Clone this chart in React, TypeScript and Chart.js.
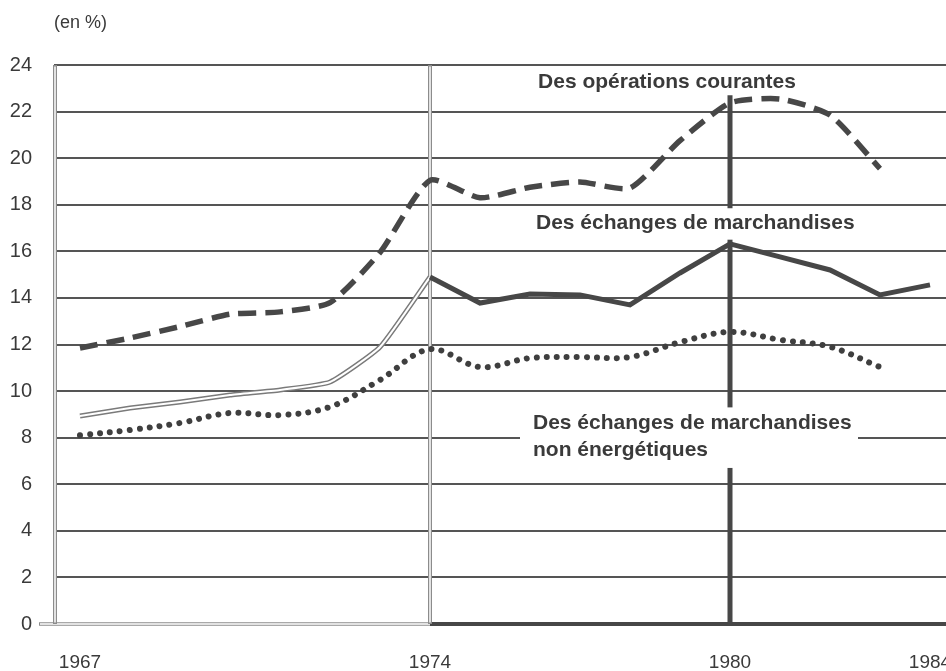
import React, { useEffect, useRef } from "react";
import { Chart, registerables } from "chart.js";

Chart.register(...registerables);

// ---- Data ----
const courantesYears = [1967, 1968, 1969, 1970, 1971, 1972, 1973, 1974, 1975, 1976, 1977, 1978, 1979, 1980, 1981, 1982, 1983];
const courantes = [11.85, 12.28, 12.77, 13.3, 13.4, 13.8, 15.95, 19.05, 18.3, 18.75, 18.98, 18.72, 20.75, 22.37, 22.54, 21.85, 19.55];

const marchandisesYears = [1967, 1968, 1969, 1970, 1971, 1972, 1973, 1974, 1975, 1976, 1977, 1978, 1979, 1980, 1981, 1982, 1983, 1984];
const marchandises = [8.93, 9.27, 9.53, 9.83, 10.05, 10.39, 11.89, 14.9, 13.78, 14.17, 14.13, 13.7, 15.07, 16.32, 15.76, 15.2, 14.13, 14.56];

const nonEnergYears = [1967, 1968, 1969, 1970, 1971, 1972, 1973, 1974, 1975, 1976, 1977, 1978, 1979, 1980, 1981, 1982, 1983];
const nonEnerg = [8.1, 8.33, 8.63, 9.06, 8.97, 9.32, 10.48, 11.8, 11.03, 11.42, 11.46, 11.46, 12.1, 12.54, 12.2, 11.9, 11.03];

const xTickYears = [1967, 1974, 1980, 1984];
const yTickValues = [0, 2, 4, 6, 8, 10, 12, 14, 16, 18, 20, 22, 24];
const splitYear = 1974;
const markerYear = 1980;

const labelCourantes = "Des opérations courantes";
const labelMarchandises = "Des échanges de marchandises";
const labelNonEnerg1 = "Des échanges de marchandises";
const labelNonEnerg2 = "non énergétiques";
const unitLabel = "(en %)";

const INK = "#474747";
const TEXT = "#3a3a3a";
const FONT = "'Liberation Sans', Arial, Helvetica, sans-serif";

const toPoints = (xs: number[], ys: number[]) => xs.map((x, i) => ({ x, y: ys[i] }));

export default function App() {
  const ref = useRef<HTMLCanvasElement>(null);

  useEffect(() => {
    document.body.style.margin = "0";
    const canvas = ref.current;
    if (!canvas) return;

    const solidPts = toPoints(marchandisesYears, marchandises);
    const solidPre = solidPts.filter((p) => p.x <= splitYear);
    const solidPost = solidPts.filter((p) => p.x >= splitYear);

    const framePlugin = {
      id: "frame",
      beforeDatasetsDraw(chart: any) {
        const { ctx, chartArea, scales } = chart;
        const xs = scales.x;
        const ys = scales.y;
        const top = ys.getPixelForValue(24);
        const bottom = ys.getPixelForValue(0);
        ctx.save();
        const x74 = xs.getPixelForValue(splitYear);
        ctx.lineCap = "butt";
        ctx.strokeStyle = "#8c8c8c";
        ctx.lineWidth = 3.5;
        ctx.beginPath();
        ctx.moveTo(chartArea.left - 15, bottom);
        ctx.lineTo(x74, bottom);
        ctx.stroke();
        ctx.strokeStyle = "#ffffff";
        ctx.lineWidth = 1.3;
        ctx.beginPath();
        ctx.moveTo(chartArea.left - 14, bottom);
        ctx.lineTo(x74, bottom);
        ctx.stroke();
        ctx.strokeStyle = INK;
        ctx.lineWidth = 4;
        ctx.beginPath();
        ctx.moveTo(x74, bottom);
        ctx.lineTo(chartArea.right, bottom);
        ctx.stroke();
        const hollow = (x: number) => {
          ctx.strokeStyle = "#8c8c8c";
          ctx.lineWidth = 4;
          ctx.beginPath();
          ctx.moveTo(x, top);
          ctx.lineTo(x, bottom);
          ctx.stroke();
          ctx.strokeStyle = "#ffffff";
          ctx.lineWidth = 1.5;
          ctx.beginPath();
          ctx.moveTo(x, top + 1.5);
          ctx.lineTo(x, bottom - 1.5);
          ctx.stroke();
        };
        hollow(chartArea.left + 1);
        hollow(x74);
        const x80 = xs.getPixelForValue(markerYear);
        ctx.strokeStyle = INK;
        ctx.lineWidth = 5;
        ctx.beginPath();
        ctx.moveTo(x80, ys.getPixelForValue(22.7));
        ctx.lineTo(x80, bottom);
        ctx.stroke();
        ctx.restore();
      },
      afterDatasetsDraw(chart: any) {
        const { ctx, scales } = chart;
        const xs = scales.x;
        const ys = scales.y;
        ctx.save();
        ctx.fillStyle = "#ffffff";
        const box = (x0: number, x1: number, y0: number, y1: number) => {
          const px0 = xs.getPixelForValue(x0);
          const px1 = xs.getPixelForValue(x1);
          const py0 = ys.getPixelForValue(y0);
          const py1 = ys.getPixelForValue(y1);
          ctx.fillRect(px0, py0, px1 - px0, py1 - py0);
        };
        box(1975.9, 1982.6, 17.85, 16.5);
        box(1975.8, 1982.56, 9.3, 6.7);
        ctx.fillStyle = TEXT;
        ctx.font = `bold 21px ${FONT}`;
        ctx.textBaseline = "middle";
        ctx.textAlign = "center";
        ctx.fillText(labelCourantes, xs.getPixelForValue(1978.74), ys.getPixelForValue(23.27));
        ctx.textAlign = "left";
        ctx.fillText(labelMarchandises, xs.getPixelForValue(1976.12), ys.getPixelForValue(17.2));
        ctx.fillText(labelNonEnerg1, xs.getPixelForValue(1976.06), ys.getPixelForValue(8.63));
        ctx.fillText(labelNonEnerg2, xs.getPixelForValue(1976.06), ys.getPixelForValue(7.45));
        ctx.font = `18px ${FONT}`;
        ctx.fillText(unitLabel, 54, 23);
        ctx.restore();
      },
    };

    const chart = new Chart(canvas, {
      type: "line",
      data: {
        datasets: [
          {
            label: "Des opérations courantes",
            data: toPoints(courantesYears, courantes),
            borderColor: INK,
            borderWidth: 5.5,
            borderDash: [18, 9],
            tension: 0.2,
            pointRadius: 0,
            fill: false,
            order: 0,
          },
          {
            label: "Des échanges de marchandises",
            data: solidPost,
            borderColor: INK,
            borderWidth: 5,
            tension: 0,
            pointRadius: 0,
            fill: false,
            borderJoinStyle: "miter",
            order: 0,
          },
          {
            label: "Des échanges de marchandises (avant 1974) - intérieur",
            data: solidPre,
            borderColor: "#ffffff",
            borderWidth: 2,
            tension: 0.15,
            pointRadius: 0,
            fill: false,
            order: 1,
          },
          {
            label: "Des échanges de marchandises (avant 1974)",
            data: solidPre,
            borderColor: "#7a7a7a",
            borderWidth: 5,
            tension: 0.15,
            pointRadius: 0,
            fill: false,
            order: 2,
          },
          {
            label: "Des échanges de marchandises non énergétiques",
            data: toPoints(nonEnergYears, nonEnerg),
            borderColor: "#3f3f3f",
            borderWidth: 6,
            borderDash: [0.01, 10],
            borderCapStyle: "round",
            tension: 0.35,
            pointRadius: 0,
            fill: false,
            order: 0,
          },
        ],
      },
      options: {
        animation: false,
        responsive: false,
        maintainAspectRatio: false,
        devicePixelRatio: 1,
        layout: { padding: { top: 65, right: 0, left: 0, bottom: 0 } },
        plugins: {
          legend: { display: false },
          tooltip: { enabled: false },
          title: { display: false },
        },
        scales: {
          x: {
            type: "linear",
            min: 1966.48,
            max: 1984.32,
            afterBuildTicks: (scale: any) => {
              scale.ticks = xTickYears.map((v) => ({ value: v }));
            },
            afterFit: (scale: any) => {
              scale.height = 47;
              scale.paddingLeft = 0;
              scale.paddingRight = 0;
            },
            ticks: {
              autoSkip: false,
              maxRotation: 0,
              minRotation: 0,
              padding: 27,
              color: TEXT,
              font: { family: FONT, size: 19 },
              callback: (v: any) => String(v),
            },
            grid: { display: false, drawTicks: false },
            border: { display: false },
          },
          y: {
            type: "linear",
            min: 0,
            max: 24,
            afterBuildTicks: (scale: any) => {
              scale.ticks = yTickValues.map((v) => ({ value: v }));
            },
            afterFit: (scale: any) => {
              scale.width = 54;
              scale.paddingTop = 0;
              scale.paddingBottom = 0;
            },
            ticks: {
              padding: 22,
              color: TEXT,
              font: { family: FONT, size: 20 },
              callback: (v: any) => String(v),
            },
            grid: {
              drawTicks: false,
              lineWidth: 2,
              color: (c: any) => (c.tick && c.tick.value === 0 ? "rgba(0,0,0,0)" : "#555555"),
            },
            border: { display: false },
          },
        },
      },
      plugins: [framePlugin],
    } as any);

    return () => chart.destroy();
  }, []);

  return (
    <div style={{ width: 946, height: 671, background: "#fff" }}>
      <canvas ref={ref} width={946} height={671} style={{ display: "block", width: 946, height: 671 }} />
    </div>
  );
}
